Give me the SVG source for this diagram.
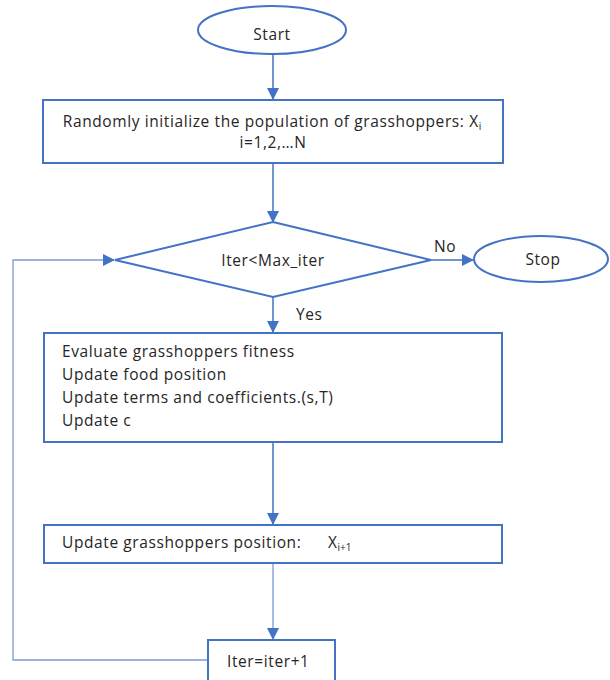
<svg xmlns="http://www.w3.org/2000/svg" width="610" height="680" viewBox="0 0 610 680">
  <style>
    .shape { fill: #ffffff; stroke: #4472c4; stroke-width: 2; }
    .conn { fill: none; stroke: #4472c4; stroke-width: 1.5; }
    .loop { fill: none; stroke: #7a9ad6; stroke-width: 1.3; }
    text { font-family: "Open Sans", "Noto Sans", sans-serif; font-size: 15.5px; letter-spacing: 0.6px; fill: #262626; }
    .mid { text-anchor: middle; }
    .sub { font-size: 10px; letter-spacing: 0; }
  </style>
  <defs>
    <marker id="arrow" markerWidth="12" markerHeight="12" refX="11" refY="6" orient="auto" markerUnits="userSpaceOnUse">
      <path d="M0,0 L12,6 L0,12 Z" fill="#4472c4"/>
    </marker>
  </defs>

  <!-- connectors -->
  <g id="connectors">
    <line class="conn" x1="273" y1="54" x2="273" y2="99" marker-end="url(#arrow)"/>
    <line class="conn" x1="273" y1="163" x2="273" y2="222" marker-end="url(#arrow)"/>
    <line class="conn" x1="428" y1="260" x2="473" y2="260" marker-end="url(#arrow)"/>
    <line class="conn" x1="273" y1="297" x2="273" y2="332" marker-end="url(#arrow)"/>
    <line class="conn" x1="273" y1="442" x2="273" y2="524" marker-end="url(#arrow)"/>
    <line class="loop" x1="273" y1="563" x2="273" y2="639" marker-end="url(#arrow)"/>
    <polyline class="loop" points="208,660 13,660 13,260 114,260" marker-end="url(#arrow)"/>
    <text x="434" y="252">No</text>
    <text x="296" y="320">Yes</text>
  </g>

  <g id="start">
    <ellipse class="shape" cx="272" cy="30" rx="74" ry="24"/>
    <text class="mid" x="272" y="40">Start</text>
  </g>

  <g id="init">
    <rect class="shape" x="43" y="100" width="460" height="63"/>
    <text class="mid" x="272" y="127">Randomly initialize the population of grasshoppers: X<tspan class="sub" dy="3">i</tspan></text>
    <text class="mid" x="273" y="148">i=1,2,…N</text>
  </g>

  <g id="condition">
    <polygon class="shape" points="273,222 431,260 273,297 115,260"/>
    <text class="mid" x="273" y="266">Iter&lt;Max_iter</text>
  </g>

  <g id="stop">
    <ellipse class="shape" cx="541" cy="259" rx="67" ry="23"/>
    <text class="mid" x="543" y="265">Stop</text>
  </g>

  <g id="evaluate">
    <rect class="shape" x="44" y="333" width="458" height="109"/>
    <text x="62" y="357">Evaluate grasshoppers fitness</text>
    <text x="62" y="380">Update food position</text>
    <text x="62" y="403">Update terms and coefficients.(s,T)</text>
    <text x="62" y="426">Update c</text>
  </g>

  <g id="update-position">
    <rect class="shape" x="44" y="525" width="458" height="38"/>
    <text x="62" y="548">Update grasshoppers position:</text>
    <text x="328" y="548">X<tspan class="sub" dy="3">i+1</tspan></text>
  </g>

  <g id="increment">
    <rect class="shape" x="208" y="640" width="127" height="50"/>
    <text x="227" y="667">Iter=iter+1</text>
  </g>
</svg>
